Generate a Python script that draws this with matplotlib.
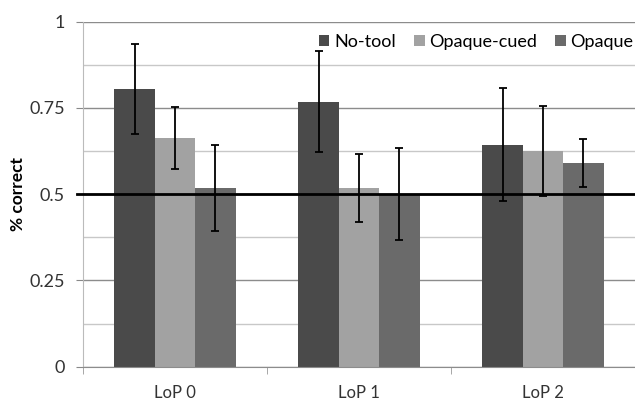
import matplotlib

matplotlib.use("Agg")
import matplotlib.pyplot as plt
import numpy as np

plt.rcParams["font.family"] = ["Lato", "DejaVu Sans"]

categories = ["LoP 0", "LoP 1", "LoP 2"]
series = ["No-tool", "Opaque-cued", "Opaque"]
colors = ["#4a4a4a", "#a2a2a2", "#6a6a6a"]

no_tool = [0.804, 0.768, 0.643]
opaque_cued = [0.662, 0.517, 0.625]
opaque = [0.518, 0.500, 0.590]

no_tool_err = [0.130, 0.146, 0.163]
opaque_cued_err = [0.089, 0.099, 0.130]
opaque_err = [0.125, 0.133, 0.070]

values = [no_tool, opaque_cued, opaque]
errors = [no_tool_err, opaque_cued_err, opaque_err]

fig = plt.figure(figsize=(6.35, 4.0), dpi=100)
ax = fig.add_axes([0.1307, 0.0833, 0.8693, 0.8629])

x = np.arange(len(categories))
w = 0.22
for i, (name, vals, errs, c) in enumerate(zip(series, values, errors, colors)):
    ax.bar(x + (i - 1) * w, vals, w, color=c, label=name, zorder=2)
    ax.errorbar(x + (i - 1) * w, vals, yerr=errs, fmt="none", ecolor="black",
                elinewidth=1.3, capsize=3, capthick=1.3, zorder=4)

# reference line at chance level
ax.axhline(0.5, xmin=-0.01, xmax=1, color="black", lw=2.0, zorder=3,
           clip_on=False)

ax.set_xlim(-0.5, 2.5)
ax.set_ylim(0, 1)
ax.set_yticks([0, 0.25, 0.5, 0.75, 1])
ax.set_yticklabels(["0", "0.25", "0.5", "0.75", "1"])
ax.set_yticks([0.125, 0.375, 0.625, 0.875], minor=True)
ax.set_xticks(x)
ax.set_xticklabels(categories)
ax.set_xticks([-0.5, 0.5, 1.5, 2.5], minor=True)
ax.tick_params(axis="x", which="major", length=0, pad=13, labelsize=12,
               colors="#333333")
ax.tick_params(axis="x", which="minor", length=5, color="#999999")
ax.tick_params(axis="y", which="major", length=5, labelsize=13,
               colors="#333333", pad=8)
ax.tick_params(axis="y", which="major", color="#888888")
ax.tick_params(axis="y", which="minor", length=0)

ax.grid(axis="y", which="major", color="#8c8c8c", lw=1.0, zorder=0)
ax.grid(axis="y", which="minor", color="#c8c8c8", lw=1.0, zorder=0)
ax.set_axisbelow(True)

ax.spines["top"].set_visible(False)
ax.spines["right"].set_visible(False)
ax.spines["left"].set_color("#bbbbbb")
ax.spines["bottom"].set_color("#8c8c8c")

ax.set_ylabel("% correct", fontsize=12.5, fontweight="bold")
ax.yaxis.set_label_coords(-0.104, 0.5)

ax.legend(loc="center right", bbox_to_anchor=(0.997, 0.941), ncol=3,
          frameon=False, fontsize=13, handlelength=0.6, handleheight=0.6,
          handletextpad=0.25, columnspacing=1.0, borderaxespad=0,
          borderpad=0)

fig.savefig("out.png", dpi=100)
